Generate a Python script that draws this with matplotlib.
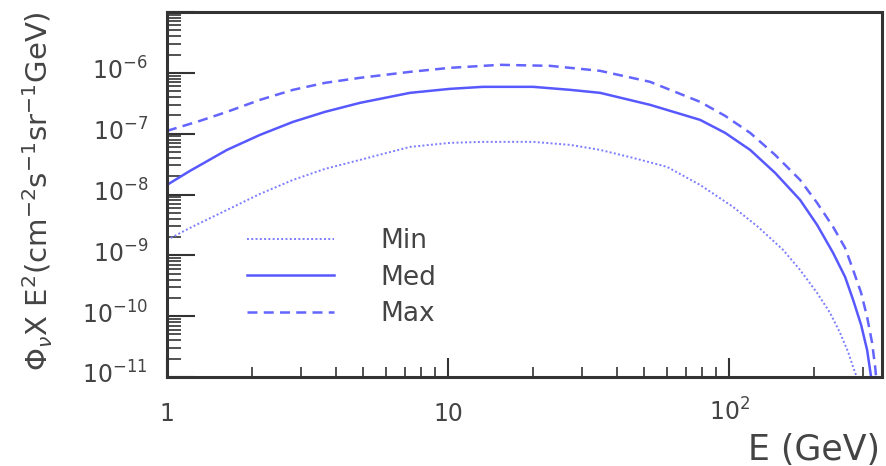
import matplotlib
matplotlib.use('Agg')
import matplotlib.pyplot as plt
from matplotlib.ticker import LogLocator, NullFormatter
from matplotlib.transforms import offset_copy

plt.rcParams['font.family'] = 'DejaVu Sans'
plt.rcParams['mathtext.fontset'] = 'dejavusans'

# Paso 1: datos de las tres curvas (E en GeV, flujo en cm^-2 s^-1 sr^-1 GeV)
e_min = [1.0, 1.207, 1.635, 2.143, 2.808, 3.650, 4.862, 7.325, 10.16, 13.32, 20.07, 27.18,
         34.75, 45.53, 60.17, 78.85, 103.3, 126.8, 155.7, 178.9, 205.7, 228.8, 248.3, 265.2,
         280.9, 285.5]
flux_min = [1.791e-9, 2.823e-9, 5.580e-9, 1.023e-8, 1.738e-8, 2.637e-8, 3.707e-8, 6.065e-8,
            7.060e-8, 7.332e-8, 7.332e-8, 6.543e-8, 5.414e-8, 3.999e-8, 2.843e-8, 1.438e-8,
            6.254e-9, 2.932e-9, 1.227e-9, 5.752e-10, 2.407e-10, 1.129e-10, 5.293e-11,
            2.577e-11, 1.163e-11, 1.0e-11]

e_med = [1.0, 1.207, 1.635, 2.143, 2.808, 3.650, 4.862, 7.325, 10.16, 13.32, 20.07, 27.18,
         34.75, 52.35, 78.85, 96.78, 118.8, 145.8, 178.9, 205.7, 234.5, 258.7, 276.3, 295.0,
         309.8, 320.1]
flux_med = [1.438e-8, 2.444e-8, 5.414e-8, 9.557e-8, 1.563e-7, 2.284e-7, 3.211e-7, 4.690e-7,
            5.455e-7, 5.885e-7, 5.885e-7, 5.253e-7, 4.690e-7, 2.977e-7, 1.686e-7, 1.031e-7,
            5.414e-8, 2.266e-8, 8.149e-9, 3.162e-9, 1.095e-9, 4.412e-10, 1.847e-10, 7.166e-11,
            2.780e-11, 1.0e-11]

e_max = [1.0, 1.310, 1.635, 2.143, 2.808, 3.650, 4.862, 7.325, 10.16, 15.31, 23.07, 34.75,
         52.35, 78.85, 96.78, 118.8, 145.8, 178.9, 205.7, 234.5, 258.7, 276.3, 295.0, 309.8,
         322.8, 330.9, 333.6]
flux_max = [1.112e-7, 1.624e-7, 2.284e-7, 3.596e-7, 5.253e-7, 6.847e-7, 8.276e-7, 1.038e-6,
            1.208e-6, 1.354e-6, 1.303e-6, 1.079e-6, 7.112e-7, 3.334e-7, 1.963e-7, 1.031e-7,
            4.479e-8, 1.738e-8, 7.274e-9, 2.932e-9, 1.323e-9, 5.752e-10, 2.407e-10, 9.701e-11,
            3.624e-11, 1.461e-11, 1.0e-11]

series_names = ['Min', 'Med', 'Max']

x_ticks = [1, 10, 100]
x_tick_labels = ['1', '10', r'$10^{2}$']
y_ticks = [1e-11, 1e-10, 1e-9, 1e-8, 1e-7, 1e-6]
y_tick_labels = [r'$10^{-11}$', r'$10^{-10}$', r'$10^{-9}$', r'$10^{-8}$', r'$10^{-7}$', r'$10^{-6}$']

# Paso 2: figura y ejes
fig = plt.figure(figsize=(8.86, 4.66), dpi=100)
ax = fig.add_axes([167 / 886, 1 - 377 / 466, (882 - 167) / 886, (377 - 12) / 466])
ax.set_xscale('log')
ax.set_yscale('log')
ax.set_xlim(1, 350)
ax.set_ylim(1e-11, 1e-5)

# Paso 3: curvas
ax.plot(e_min, flux_min, color='#7c7cff', lw=1.4, linestyle=(0, (1, 1.2)), label=series_names[0])
ax.plot(e_med, flux_med, color='#5858ff', lw=1.8, linestyle='-', label=series_names[1])
ax.plot(e_max, flux_max, color='#6464ff', lw=1.8, linestyle=(0, (4, 2.5)), label=series_names[2])

# Paso 4: ejes estilo ROOT
frame_color = '#333333'
text_color = '#444444'
for s in ax.spines.values():
    s.set_linewidth(2.2)
    s.set_color(frame_color)

ax.xaxis.set_minor_locator(LogLocator(base=10, subs=range(2, 10), numticks=20))
ax.yaxis.set_minor_locator(LogLocator(base=10, subs=range(2, 10), numticks=30))
ax.set_xticks(x_ticks)
ax.set_yticks(y_ticks + [1e-5])
ax.xaxis.set_minor_formatter(NullFormatter())
ax.yaxis.set_minor_formatter(NullFormatter())
ax.tick_params(axis='both', which='both', direction='in', colors=frame_color,
               top=False, right=False, labelbottom=False, labelleft=False)
ax.tick_params(axis='y', which='major', length=20, width=1.5)
ax.tick_params(axis='y', which='minor', length=10, width=1.2)
ax.tick_params(axis='x', which='major', length=14, width=1.5)
ax.tick_params(axis='x', which='minor', length=7, width=1.2)

# etiquetas de los ticks
ytr = offset_copy(ax.get_yaxis_transform(), fig=fig, x=-19, y=-7, units='dots')
for v, lab in zip(y_ticks, y_tick_labels):
    ax.text(0, v, lab, transform=ytr, ha='right', va='baseline', fontsize=17, color=text_color)
xtr = offset_copy(ax.get_xaxis_transform(), fig=fig, x=0, y=-44, units='dots')
for v, lab in zip(x_ticks, x_tick_labels):
    ax.text(v, 0, lab, transform=xtr, ha='center', va='baseline', fontsize=17, color=text_color)

fig.text(880 / 886, 1 - 460 / 466, 'E (GeV)', ha='right', va='baseline', fontsize=25, color=text_color)
fig.text(38 / 886, 1 - 191 / 466, r'$\Phi_{\nu}$X E$^{2}$(cm$^{-2}$s$^{-1}$sr$^{-1}$GeV)',
         rotation=90, ha='center', va='center', fontsize=21, color=text_color)

# Paso 5: leyenda
leg = ax.legend(loc='upper left', bbox_to_anchor=(247 / 886, 1 - 228 / 466),
                bbox_transform=fig.transFigure, frameon=False, fontsize=19,
                handlelength=3.3, handletextpad=1.75, labelspacing=0.4,
                borderpad=0, borderaxespad=0)
for t in leg.get_texts():
    t.set_color(text_color)

fig.savefig('out.png', dpi=100)
